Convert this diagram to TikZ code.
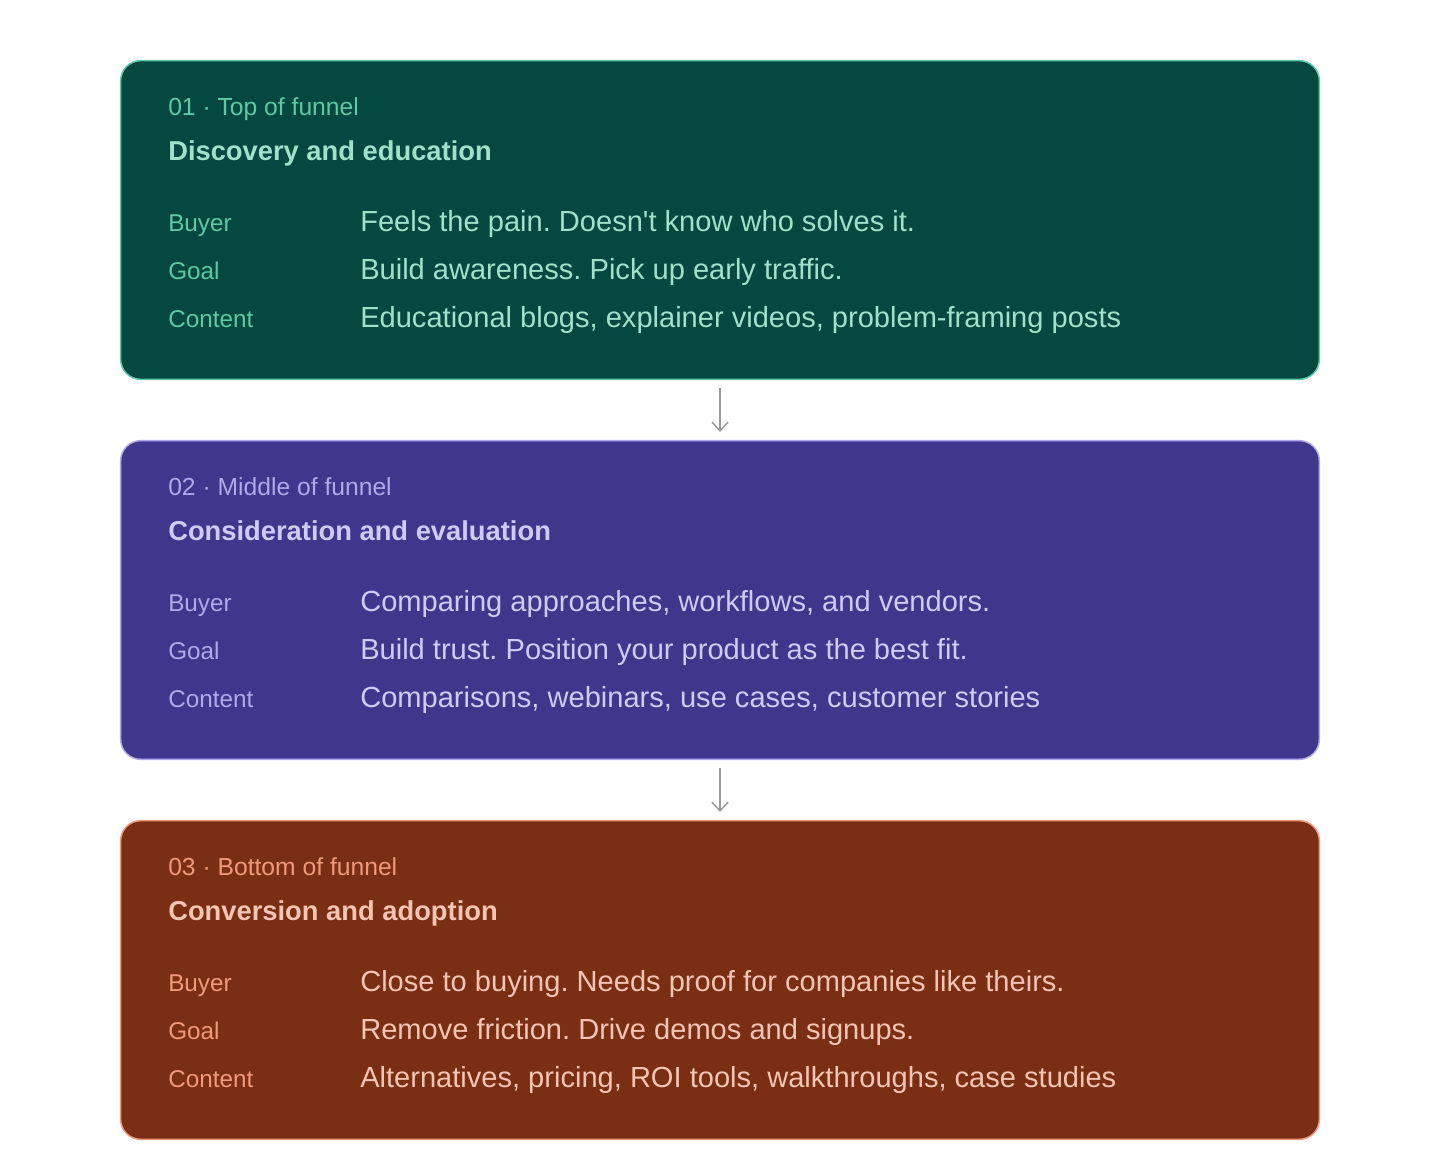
\documentclass[tikz,border=0pt]{standalone}
\usepackage{fontspec}
\setmainfont{Liberation Sans}
\usetikzlibrary{arrows.meta}
\frenchspacing
\definecolor{tfill}{HTML}{04483F}
\definecolor{tedge}{HTML}{5DCAA5}
\definecolor{ttitle}{HTML}{9FE1CB}
\definecolor{pfill}{HTML}{3E378B}
\definecolor{pedge}{HTML}{AFA9EC}
\definecolor{ptitle}{HTML}{CECBF6}
\definecolor{cfill}{HTML}{7A2E14}
\definecolor{cedge}{HTML}{F0997B}
\definecolor{ctitle}{HTML}{F5C4B3}
\definecolor{arrgray}{HTML}{9A9A9A}
\tikzset{
  stagebox/.style={draw, line width=1.1pt, rounded corners=15pt, minimum width=899pt, minimum height=239pt, inner sep=0pt},
  kicker/.style={anchor=base west, inner sep=0pt, font=\fontsize{18.5}{22}\selectfont},
  heading/.style={anchor=base west, inner sep=0pt, font=\fontsize{20.5}{24}\selectfont\bfseries},
  rowlabel/.style={anchor=base west, inner sep=0pt, font=\fontsize{18.2}{22}\selectfont},
  rowtext/.style={anchor=base west, inner sep=0pt, font=\fontsize{21.8}{26}\selectfont},
  flow/.style={draw=arrgray, line width=1.1pt, -{Straight Barb[length=6.5pt,width=12pt,line width=1.1pt]}}
}
\begin{document}
\begin{tikzpicture}[x=0.75pt,y=-0.75pt]
\useasboundingbox[fill=white] (0,0) rectangle (1440,1160);
% Box 1
\node[stagebox, fill=tfill, draw=tedge] (b1) at (720,220) {};
\node[kicker, text=tedge] (k1) at (168,115) {01 · Top of funnel};
\node[heading, text=ttitle] (h1) at (168,160) {Discovery and education};
\node[rowlabel, text=tedge] (l11) at (168,231) {Buyer};
\node[rowlabel, text=tedge] (l12) at (168,279) {Goal};
\node[rowlabel, text=tedge] (l13) at (168,327) {Content};
\node[rowtext, text=ttitle] (r11) at (360,231) {Feels the pain. Doesn\textquotesingle t know who solves it.};
\node[rowtext, text=ttitle] (r12) at (360,279) {Build awareness. Pick up early traffic.};
\node[rowtext, text=ttitle] (r13) at (360,327) {Educational blogs, explainer videos, problem-framing posts};
% Box 2
\node[stagebox, fill=pfill, draw=pedge] (b2) at (720,600) {};
\node[kicker, text=pedge] (k2) at (168,495) {02 · Middle of funnel};
\node[heading, text=ptitle] (h2) at (168,540) {Consideration and evaluation};
\node[rowlabel, text=pedge] (l21) at (168,611) {Buyer};
\node[rowlabel, text=pedge] (l22) at (168,659) {Goal};
\node[rowlabel, text=pedge] (l23) at (168,707) {Content};
\node[rowtext, text=ptitle] (r21) at (360,611) {Comparing approaches, workflows, and vendors.};
\node[rowtext, text=ptitle] (r22) at (360,659) {Build trust. Position your product as the best fit.};
\node[rowtext, text=ptitle] (r23) at (360,707) {Comparisons, webinars, use cases, customer stories};
% Box 3
\node[stagebox, fill=cfill, draw=cedge] (b3) at (720,980) {};
\node[kicker, text=cedge] (k3) at (168,875) {03 · Bottom of funnel};
\node[heading, text=ctitle] (h3) at (168,920) {Conversion and adoption};
\node[rowlabel, text=cedge] (l31) at (168,991) {Buyer};
\node[rowlabel, text=cedge] (l32) at (168,1039) {Goal};
\node[rowlabel, text=cedge] (l33) at (168,1087) {Content};
\node[rowtext, text=ctitle] (r31) at (360,991) {Close to buying. Needs proof for companies like theirs.};
\node[rowtext, text=ctitle] (r32) at (360,1039) {Remove friction. Drive demos and signups.};
\node[rowtext, text=ctitle] (r33) at (360,1087) {Alternatives, pricing, ROI tools, walkthroughs, case studies};
% Arrows
\draw[flow] ([yshift=-6pt]b1.south) -- ([yshift=6pt]b2.north);
\draw[flow] ([yshift=-6pt]b2.south) -- ([yshift=6pt]b3.north);
\end{tikzpicture}
\end{document}
